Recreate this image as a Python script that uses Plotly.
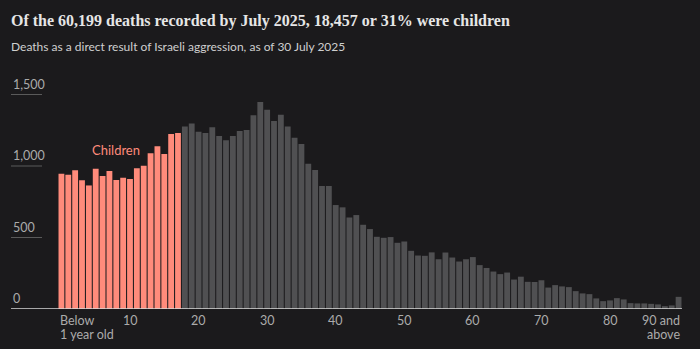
import plotly.graph_objects as go

# ---- data ----
ages = list(range(0, 91))  # 0 = below 1 year old, 90 = 90 and above
deaths = [
    946, 939, 970, 900, 864, 981, 930, 965, 902, 918,
    909, 984, 1002, 1089, 1138, 1084, 1224, 1231, 1277, 1298,
    1240, 1231, 1271, 1210, 1180, 1210, 1245, 1252, 1355, 1448,
    1394, 1315, 1359, 1277, 1198, 1154, 1016, 972, 860, 860,
    727, 711, 640, 657, 589, 559, 505, 498, 503, 463,
    472, 407, 374, 372, 396, 348, 395, 360, 332, 348,
    363, 307, 287, 262, 244, 255, 206, 226, 190, 189,
    201, 150, 167, 158, 153, 125, 109, 104, 74, 55,
    60, 76, 67, 41, 39, 39, 36, 32, 20, 25,
    85,
]
child_cutoff = 18
y_ticks = [0, 500, 1000, 1500]
y_tick_text = ["0", "500", "1,000", "1,500"]
x_tick_vals = [10, 20, 30, 40, 50, 60, 70, 80]
x_tick_text = ["10", "20", "30", "40", "50", "60", "70", "80"]
first_label = ["Below", "1 year old"]
last_label = ["90 and", "above"]

title = "Of the 60,199 deaths recorded by July 2025, 18,457 or 31% were children"
subtitle = "Deaths as a direct result of Israeli aggression, as of 30 July 2025"

# ---- style ----
W, H = 700, 349
ML, MR, MT, MB = 58, 18, 81, 40
BG = "#1b1a1c"
CHILD = "#ff8b7b"
ADULT = "#505052"
LABEL = "#ababab"
SANS = "Lato, Roboto, sans-serif"

pw = W - ML - MR
ph = H - MT - MB

def px_x(px):
    return (px - ML) / pw

def px_y(py):
    return (H - MB - py) / ph

fig = go.Figure()
fig.add_trace(go.Bar(x=ages[:child_cutoff], y=deaths[:child_cutoff],
                     marker=dict(color=CHILD, line=dict(width=0)),
                     hoverinfo="x+y", showlegend=False))
fig.add_trace(go.Bar(x=ages[child_cutoff:], y=deaths[child_cutoff:],
                     marker=dict(color=ADULT, line=dict(width=0)),
                     hoverinfo="x+y", showlegend=False))

annotations = []
shapes = []

# y labels with short gridlines beneath
for v, t in zip(y_ticks, y_tick_text):
    annotations.append(dict(x=px_x(10.5), y=v, xref="paper", yref="y",
                            text=t, showarrow=False, xanchor="left",
                            yanchor="bottom", yshift=1,
                            font=dict(family=SANS, size=12.5, color=LABEL)))
    if v > 0:
        shapes.append(dict(type="line", xref="paper", yref="y",
                           x0=px_x(11), x1=px_x(42), y0=v, y1=v,
                           line=dict(color="#5a5a5a", width=1)))

# baseline
shapes.append(dict(type="line", xref="paper", yref="y",
                   x0=px_x(11), x1=1.0, y0=0, y1=0,
                   line=dict(color="#d8d8d8", width=1.5), layer="above"))

# x labels
for v, t in zip(x_tick_vals, x_tick_text):
    annotations.append(dict(x=v, y=px_y(320), xref="x", yref="paper",
                            text=t, showarrow=False, xanchor="center",
                            yanchor="middle",
                            font=dict(family=SANS, size=12.5, color=LABEL)))
for i, line_txt in enumerate(first_label):
    annotations.append(dict(x=ages[0] - 0.5, y=px_y(320 + 14 * i), xref="x",
                            yref="paper", text=line_txt, showarrow=False,
                            xanchor="left", yanchor="middle",
                            font=dict(family=SANS, size=12.5, color=LABEL)))
for i, line_txt in enumerate(last_label):
    annotations.append(dict(x=ages[-1] + 0.5, y=px_y(320 + 14 * i), xref="x",
                            yref="paper", text=line_txt, showarrow=False,
                            xanchor="right", yanchor="middle",
                            font=dict(family=SANS, size=12.5, color=LABEL)))

# Children label
annotations.append(dict(x=8, y=1112, xref="x", yref="y", text="Children",
                        showarrow=False, xanchor="center", yanchor="middle",
                        font=dict(family=SANS, size=13, color=CHILD)))

# title / subtitle
annotations.append(dict(x=px_x(9), y=px_y(21), xref="paper", yref="paper",
                        text=title, showarrow=False, xanchor="left",
                        yanchor="middle",
                        font=dict(family="Liberation Serif, serif", size=16,
                                  color="#e6e6e6", weight="bold")))
annotations.append(dict(x=px_x(9), y=px_y(47), xref="paper", yref="paper",
                        text=subtitle, showarrow=False, xanchor="left",
                        yanchor="middle",
                        font=dict(family=SANS, size=12, color="#cfcfcf")))

fig.update_layout(
    width=W, height=H,
    margin=dict(l=ML, r=MR, t=MT, b=MB, pad=0),
    paper_bgcolor=BG, plot_bgcolor=BG,
    bargap=0.15, barmode="overlay",
    xaxis=dict(range=[-0.5, 90.5], showgrid=False, zeroline=False,
               showticklabels=False, ticks="", fixedrange=True),
    yaxis=dict(range=[0, ph * 1500 / 214.5], showgrid=False, zeroline=False,
               showticklabels=False, ticks="", fixedrange=True),
    annotations=annotations, shapes=shapes,
    showlegend=False,
)

fig.write_html("out.html", config={"displayModeBar": False})
